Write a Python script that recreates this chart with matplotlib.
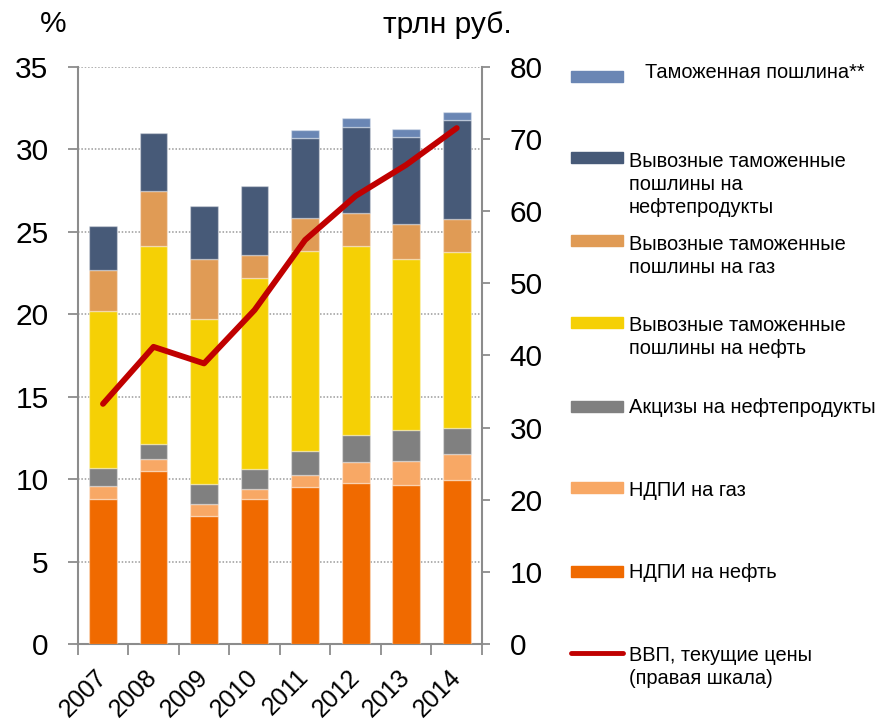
import matplotlib
matplotlib.use('Agg')
import matplotlib.pyplot as plt
import numpy as np
from matplotlib.patches import Rectangle
from matplotlib.lines import Line2D

plt.rcParams['font.family'] = ['Liberation Sans', 'DejaVu Sans']

# ---------------- data ----------------
years = ['2007', '2008', '2009', '2010', '2011', '2012', '2013', '2014']
ndpi_oil = [8.79, 10.52, 7.79, 8.79, 9.55, 9.79, 9.67, 9.97]
ndpi_gas = [0.82, 0.71, 0.69, 0.62, 0.71, 1.24, 1.46, 1.54]
excise_prod = [1.09, 0.93, 1.22, 1.19, 1.47, 1.67, 1.84, 1.58]
export_oil = [9.50, 11.99, 10.03, 11.61, 12.10, 11.45, 10.38, 10.68]
export_gas = [2.46, 3.30, 3.64, 1.36, 2.00, 2.00, 2.10, 1.98]
export_prod = [2.70, 3.51, 3.17, 4.18, 4.83, 5.21, 5.31, 6.04]
customs = [np.nan, np.nan, np.nan, np.nan, 0.50, 0.55, 0.46, 0.45]
gdp = [33.3, 41.2, 38.9, 46.3, 56.0, 62.1, 66.4, 71.5]

series = [
    ('НДПИ на нефть', ndpi_oil, '#F06A00'),
    ('НДПИ на газ', ndpi_gas, '#F8A865'),
    ('Акцизы на нефтепродукты', excise_prod, '#808080'),
    ('Вывозные таможенные\nпошлины на нефть', export_oil, '#F5D005'),
    ('Вывозные таможенные\nпошлины на газ', export_gas, '#E09B55'),
    ('Вывозные таможенные\nпошлины на\nнефтепродукты', export_prod, '#475A78'),
    ('Таможенная пошлина**', customs, '#6A86B4'),
]
gdp_label = 'ВВП, текущие цены\n(правая шкала)'
gdp_color = '#C00000'

W, H = 891, 720
fig = plt.figure(figsize=(W / 100, H / 100), dpi=100)

def fx(px):
    return px / W

def fy(py):
    return 1 - py / H

ax_l, ax_r, ax_t, ax_b = 77.7, 482.0, 66.7, 644.3
ax = fig.add_axes([fx(ax_l), fy(ax_b), fx(ax_r - ax_l), (ax_b - ax_t) / H])
ax2 = ax.twinx()

x = np.arange(len(years))
bottom = np.zeros(len(years))
for name, vals, col in series:
    v = np.array(vals, dtype=float)
    ax.bar(x, v, width=0.55, bottom=bottom, color=col,
           edgecolor=(1, 1, 1, 0.35), linewidth=1.0, zorder=3)
    bottom = bottom + np.nan_to_num(v)

ax2.plot(x, gdp, color=gdp_color, lw=4.2, solid_capstyle='round',
         solid_joinstyle='round', zorder=5)

gray = '#8C8C8C'
ax.set_xlim(-0.5, len(years) - 0.5)
ax.set_ylim(0, 35)
ax2.set_ylim(0, 80)
ax.set_yticks(np.arange(0, 36, 5))
ax2.set_yticks(np.arange(0, 81, 10))
ax.yaxis.grid(True, color='#9A9A9A', linestyle=(0, (1.0, 1.2)), lw=1.1, zorder=0)
ax.set_axisbelow(True)

ax.set_xticks(x)
ax.set_xticklabels(years, rotation=45, ha='right', va='center',
                   rotation_mode='anchor', fontsize=18)
ax.set_xticks(np.arange(-0.5, len(years)), minor=True)
ax.tick_params(axis='x', which='major', length=0, pad=21)
ax.tick_params(axis='x', which='minor', length=8, width=1.3, color=gray, direction='out')
ax.tick_params(axis='y', length=7.5, width=1.3, color=gray, pad=13.5, labelsize=21.5)
ax2.tick_params(axis='y', length=6, width=1.3, color=gray, pad=14, labelsize=21.5)

for a in (ax, ax2):
    a.spines['top'].set_visible(False)
    for s in ('left', 'right', 'bottom'):
        a.spines[s].set_color(gray)
        a.spines[s].set_linewidth(1.5)
ax.spines['right'].set_visible(False)
ax2.spines['left'].set_visible(False)
ax2.spines['bottom'].set_visible(False)

fig.text(fx(53), fy(32), '%', fontsize=21.5, ha='center', va='baseline')
fig.text(fx(383), fy(33), 'трлн руб.', fontsize=21.5, ha='left', va='baseline')

# ---------------- legend ----------------
leg_fs = 14.4
leg_items = [
    # (series index, patch center y px, text cap top y px, text x)
    (6, 76, 65, 645),
    (5, 157.7, 153.3, 629),
    (4, 240.7, 236, 629),
    (3, 322.7, 317.7, 629),
    (2, 406, 399.3, 629),
    (1, 487.7, 482.7, 629),
    (0, 571, 565, 629),
]
for idx, pc, ct, tx in leg_items:
    name, vals, col = series[idx]
    fig.patches.append(Rectangle((fx(571), fy(pc + 5.5)), fx(52), 11 / H,
                                 transform=fig.transFigure, color=col, figure=fig))
    fig.text(fx(tx), fy(ct - 1.5), name, fontsize=leg_fs, ha='left', va='top',
             linespacing=1.28)

fig.lines.append(Line2D([fx(571), fx(623)], [fy(652.7), fy(652.7)],
                        transform=fig.transFigure, color=gdp_color, lw=3.5,
                        solid_capstyle='round', figure=fig))
fig.text(fx(629), fy(647.7 - 1.5), gdp_label, fontsize=leg_fs, ha='left', va='top',
         linespacing=1.28)

fig.savefig('out.png', dpi=100)
